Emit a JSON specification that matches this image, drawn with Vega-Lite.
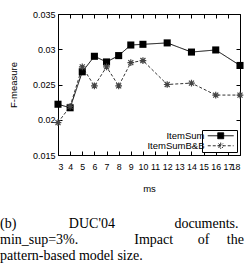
{
  "$schema": "https://vega.github.io/schema/vega-lite/v6.json",
  "width": 182,
  "height": 141,
  "autosize": {"type": "none"},
  "padding": {"left": 58, "top": 14, "right": 9, "bottom": 109},
  "background": "white",
  "config": {
    "view": {"stroke": "black", "strokeWidth": 1},
    "font": "Liberation Sans",
    "axis": {"grid": false, "labelOverlap": false, "labelColor": "black", "labelFontSize": 9, "titleFontSize": 9.5, "titleFontWeight": "normal", "titleColor": "black", "labelFont": "Liberation Sans", "titleFont": "Liberation Sans"}
  },
  "title": {
    "text": ["(b)\u00a0\u00a0\u00a0\u00a0\u00a0\u00a0\u00a0\u00a0\u00a0\u00a0\u00a0\u00a0\u00a0\u00a0\u00a0DUC'04\u00a0\u00a0\u00a0\u00a0\u00a0\u00a0\u00a0\u00a0\u00a0\u00a0\u00a0\u00a0\u00a0\u00a0\u00a0\u00a0\u00a0documents.", "min_sup=3%.\u00a0\u00a0\u00a0\u00a0\u00a0\u00a0\u00a0\u00a0\u00a0\u00a0\u00a0\u00a0\u00a0\u00a0\u00a0\u00a0Impact\u00a0\u00a0\u00a0\u00a0\u00a0\u00a0\u00a0of\u00a0\u00a0\u00a0\u00a0\u00a0the", "pattern-based model size."],
    "orient": "bottom",
    "anchor": "start",
    "frame": "group",
    "dx": -58,
    "dy": 1,
    "offset": 23,
    "font": "Liberation Serif",
    "fontSize": 14,
    "fontWeight": "normal",
    "lineHeight": 16,
    "color": "black",
    "baseline": "top"
  },
  "data": {"values": [
    {"ms": 3, "f": 0.0222, "series": "ItemSum"},
    {"ms": 4, "f": 0.0217, "series": "ItemSum"},
    {"ms": 5, "f": 0.0268, "series": "ItemSum"},
    {"ms": 6, "f": 0.029, "series": "ItemSum"},
    {"ms": 7, "f": 0.0282, "series": "ItemSum"},
    {"ms": 8, "f": 0.0291, "series": "ItemSum"},
    {"ms": 9, "f": 0.0306, "series": "ItemSum"},
    {"ms": 10, "f": 0.0307, "series": "ItemSum"},
    {"ms": 12, "f": 0.0309, "series": "ItemSum"},
    {"ms": 14, "f": 0.0296, "series": "ItemSum"},
    {"ms": 16, "f": 0.0299, "series": "ItemSum"},
    {"ms": 18, "f": 0.0277, "series": "ItemSum"},
    {"ms": 3, "f": 0.0196, "series": "ItemSumB&B"},
    {"ms": 4, "f": 0.0219, "series": "ItemSumB&B"},
    {"ms": 5, "f": 0.0275, "series": "ItemSumB&B"},
    {"ms": 6, "f": 0.0248, "series": "ItemSumB&B"},
    {"ms": 7, "f": 0.0275, "series": "ItemSumB&B"},
    {"ms": 8, "f": 0.0248, "series": "ItemSumB&B"},
    {"ms": 9, "f": 0.0281, "series": "ItemSumB&B"},
    {"ms": 10, "f": 0.0284, "series": "ItemSumB&B"},
    {"ms": 12, "f": 0.025, "series": "ItemSumB&B"},
    {"ms": 14, "f": 0.0252, "series": "ItemSumB&B"},
    {"ms": 16, "f": 0.0235, "series": "ItemSumB&B"},
    {"ms": 18, "f": 0.0235, "series": "ItemSumB&B"}
  ]},
  "layer": [
    {
      "mark": {"type": "line", "strokeWidth": 1},
      "encoding": {
        "x": {"field": "ms", "type": "quantitative", "scale": {"domain": [3, 18], "nice": false, "zero": false}, "axis": {"orient": "bottom", "values": [3,4,5,6,7,8,9,10,11,12,13,14,15,16,17,18], "format": "d", "title": "ms", "domain": false, "ticks": true, "tickSize": 4, "tickColor": "black", "tickWidth": 1, "offset": -4, "labelPadding": 7, "titlePadding": 13, "labelFontSize": 8.8}},
        "y": {"field": "f", "type": "quantitative", "scale": {"domain": [0.015, 0.035], "nice": false, "zero": false}, "axis": {"orient": "left", "values": [0.015, 0.02, 0.025, 0.03, 0.035], "format": "~g", "title": "F-measure", "domain": false, "ticks": true, "tickSize": 4, "tickColor": "black", "tickWidth": 1, "offset": -4, "labelPadding": 3, "titlePadding": 14}},
        "color": {"field": "series", "type": "nominal", "scale": {"domain": ["ItemSum", "ItemSumB&B"], "range": ["black", "#333333"]},
          "legend": {
            "title": null, "orient": "bottom-right", "offset": 3,
            "strokeColor": "black", "fillColor": "white", "padding": 1,
            "labelFontSize": 9.5, "labelColor": "black", "labelFont": "Liberation Sans",
            "symbolSize": 49, "symbolStrokeWidth": 1, "rowPadding": -3,
            "encode": {
              "symbols": {"update": {
                "shape": {"signal": "datum.value === 'ItemSum' ? 'M0,0H7.4M2.85,-0.85H4.55V0.85H2.85Z' : 'M0,0H7.4M2.8,0H4.6M3.7,-0.9V0.9M3.05,-0.65L4.35,0.65M3.05,0.65L4.35,-0.65'"},
                "fill": {"signal": "datum.value === 'ItemSum' ? 'black' : 'transparent'"},
                "stroke": {"signal": "datum.value === 'ItemSum' ? 'black' : '#333333'"},
                "strokeDash": {"signal": "datum.value === 'ItemSum' ? [1,0] : [3,2]"}
              }},
              "labels": {"update": {
                "x": {"value": 1.5},
                "align": {"value": "right"}
              }}
            }
          }},
        "strokeDash": {"field": "series", "type": "nominal", "scale": {"domain": ["ItemSum", "ItemSumB&B"], "range": [[1, 0], [3, 2]]}}
      }
    },
    {
      "transform": [{"filter": "datum.series === 'ItemSum'"}],
      "mark": {"type": "point", "shape": "square", "filled": true, "color": "black", "size": 50, "opacity": 1},
      "encoding": {
        "x": {"field": "ms", "type": "quantitative", "axis": null},
        "y": {"field": "f", "type": "quantitative", "axis": null}
      }
    },
    {
      "transform": [{"filter": "datum.series === 'ItemSumB&B'"}],
      "mark": {"type": "point", "shape": "M-1,0H1M0,-1V1M-0.75,-0.75L0.75,0.75M-0.75,0.75L0.75,-0.75", "filled": false, "stroke": "#444444", "strokeWidth": 1.2, "size": 45, "opacity": 1},
      "encoding": {
        "x": {"field": "ms", "type": "quantitative", "axis": null},
        "y": {"field": "f", "type": "quantitative", "axis": null}
      }
    },
    {
      "mark": {"type": "point", "opacity": 0},
      "encoding": {
        "x": {"field": "ms", "type": "quantitative", "axis": {"orient": "top", "values": [3,4,5,6,7,8,9,10,11,12,13,14,15,16,17,18], "labels": false, "title": null, "domain": false, "ticks": true, "tickSize": 4, "tickColor": "black", "tickWidth": 1, "offset": -4}},
        "y": {"field": "f", "type": "quantitative", "axis": {"orient": "right", "values": [0.015, 0.02, 0.025, 0.03, 0.035], "labels": false, "title": null, "domain": false, "ticks": true, "tickSize": 4, "tickColor": "black", "tickWidth": 1, "offset": -4}}
      }
    }
  ],
  "resolve": {"axis": {"x": "independent", "y": "independent"}}
}
